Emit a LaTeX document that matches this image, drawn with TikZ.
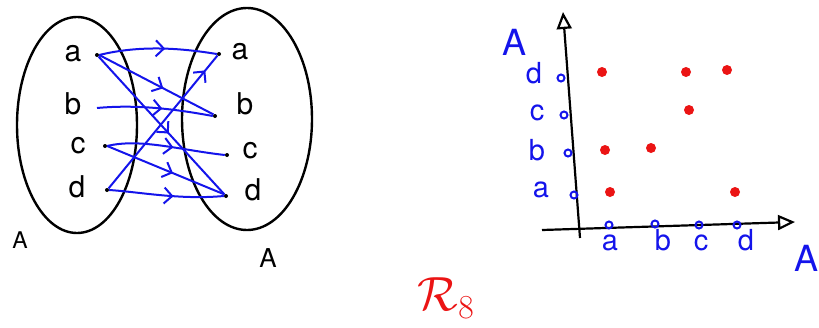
\RequirePackage{fix-cm}
\documentclass[tikz,border=0pt]{standalone}
\usepackage{amsmath}
\usepackage{fontspec}
\setsansfont{TeX Gyre Heros}
\usetikzlibrary{arrows.meta,decorations.markings}
\definecolor{pen}{RGB}{20,20,235}
\definecolor{redpen}{RGB}{235,20,20}
\tikzset{
  setline/.style={draw=black, line width=2.4pt},
  lbl/.style={font=\sffamily\fontsize{30}{32}\selectfont, inner sep=0pt, text=black},
  leftA/.style={font=\sffamily\fontsize{23}{25}\selectfont, inner sep=0pt, text=black},
  rightA/.style={font=\sffamily\fontsize{26}{28}\selectfont, inner sep=0pt, text=black},
  bluelbl/.style={font=\sffamily\fontsize{29}{31}\selectfont, inner sep=0pt, text=pen},
  blueA/.style={font=\sffamily\fontsize{36}{38}\selectfont, inner sep=0pt, text=pen},
  pt/.style={circle, fill=black, inner sep=0pt, minimum size=4pt},
  rel/.style={draw=pen, line width=2pt,
    postaction={decorate, decoration={markings,
      mark=at position #1 with {\draw[pen, line width=2pt] (-8pt,-8pt) -- (0,0) -- (-8pt,8pt);}}}},
  rel/.default=0.55,
  axis/.style={draw=black, line width=2.2pt, -{Triangle[open, length=17pt, width=15pt, fill=white]}},
  tick/.style={circle, draw=pen, line width=2pt, inner sep=0pt, minimum size=7pt},
  rdot/.style={circle, fill=redpen, inner sep=0pt, minimum size=10pt}
}
\begin{document}
\begin{tikzpicture}[x=1pt, y=-1pt]
\useasboundingbox (0,0) rectangle (819,327);
% sets
\draw[setline] (77,125) ellipse [x radius=60, y radius=108];
\draw[setline] (247,119) ellipse [x radius=65, y radius=111];
% left labels
\node[lbl] (la) at (73,54) {a};
\node[lbl] (lb) at (73,104) {b};
\node[lbl] (lc) at (78,146) {c};
\node[lbl] (ld) at (77,187) {d};
\node[lbl] (ra) at (240,52) {a};
\node[lbl] (rb) at (245,104) {b};
\node[lbl] (rc) at (250,151) {c};
\node[lbl] (rd) at (253,190) {d};
\node[leftA] (AL) at (20,240) {A};
\node[rightA] (AR) at (268,258) {A};
% dots
\node[pt] (pa) at (97,55) {};
\coordinate (pb) at (97,108);
\node[pt] (pc) at (105,146) {};
\node[pt] (pd) at (107,190) {};
\node[pt] (qa) at (219,54) {};
\node[pt] (qb) at (215,116) {};
\node[pt] (qc) at (227,155) {};
\node[pt] (qd) at (226,196) {};
% relation arrows
\draw[rel] (pa.east) .. controls (140,45) and (180,48) .. (qa.west);
\draw[rel] (pa.east) -- (qb.north west);
\draw[rel] (pa.south east) -- (qd.north west);
\draw[rel] (pb) .. controls (140,104) and (180,110) .. (qb.west);
\draw[rel] (pc.east) .. controls (140,138) and (180,150) .. (qc.west);
\draw[rel] (pc.east) -- (qd.north west);
\draw[rel=0.88] (pd.north east) -- (qa.south west);
\draw[rel] (pd.east) .. controls (140,192) and (180,200) .. (qd.west);
% scatter axes
\coordinate (yb) at (580,238);
\coordinate (yt) at (563,12);
\coordinate (xl) at (542,230);
\coordinate (xr) at (795,222);
\draw[axis] (yb) -- (yt);
\draw[axis] (xl) -- (xr);
% ticks
\node[tick] (ty1) at (574,195) {};
\node[tick] (ty2) at (568,153) {};
\node[tick] (ty3) at (564,115) {};
\node[tick] (ty4) at (561,78) {};
\node[tick] (tx1) at (609,225) {};
\node[tick] (tx2) at (655,224) {};
\node[tick] (tx3) at (699,225) {};
\node[tick] (tx4) at (737,225) {};
% axis labels
\node[bluelbl] (ya) at (541,190) {a};
\node[bluelbl] (yb2) at (537,150) {b};
\node[bluelbl] (yc) at (537,113) {c};
\node[bluelbl] (yd) at (534,73) {d};
\node[bluelbl] (xa) at (610,243) {a};
\node[bluelbl] (xb) at (663,240) {b};
\node[bluelbl] (xc) at (701,243) {c};
\node[bluelbl] (xd) at (746,240) {d};
\node[blueA] (AY) at (514,42) {A};
\node[blueA] (AX) at (806,258) {A};
% red points
\node[rdot] (r1) at (602,72) {};
\node[rdot] (r2) at (686,72) {};
\node[rdot] (r3) at (727,70) {};
\node[rdot] (r4) at (689,110) {};
\node[rdot] (r5) at (605,150) {};
\node[rdot] (r6) at (651,148) {};
\node[rdot] (r7) at (610,192) {};
\node[rdot] (r8) at (735,192) {};
% title
\node[text=redpen, font=\fontsize{48}{50}\selectfont, inner sep=0pt] (R8) at (446,298) {$\mathcal{R}_{8}$};
\end{tikzpicture}
\end{document}
